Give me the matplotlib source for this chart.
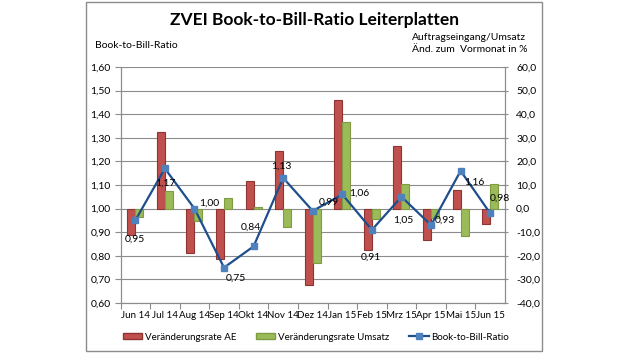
"""ZVEI Book-to-Bill-Ratio Leiterplatten - combo bar/line chart."""

import matplotlib

matplotlib.use("Agg")
import matplotlib.pyplot as plt
from matplotlib.lines import Line2D
from matplotlib.patches import Patch, Rectangle

plt.rcParams["font.family"] = ["Lato", "DejaVu Sans"]

months = ["Jun 14", "Jul 14", "Aug 14", "Sep 14", "Okt 14", "Nov 14", "Dez 14",
          "Jan 15", "Feb 15", "Mrz 15", "Apr 15", "Mai 15", "Jun 15"]
rate_ae = [-11.1, 32.5, -18.9, -21.2, 11.6, 24.4, -32.5, 45.9, -17.6, 26.6, -13.1, 7.8, -6.6]
rate_umsatz = [-3.4, 7.5, -5.2, 4.5, 0.7, -7.6, -23.1, 36.7, -4.5, 10.3, -3.8, -11.6, 10.3]
book_to_bill = [0.95, 1.17, 1.00, 0.75, 0.84, 1.13, 0.99, 1.06, 0.91, 1.05, 0.93, 1.16, 0.98]
left_ticks = [0.6, 0.7, 0.8, 0.9, 1.0, 1.1, 1.2, 1.3, 1.4, 1.5, 1.6]
right_ticks = [-40, -30, -20, -10, 0, 10, 20, 30, 40, 50, 60]

# label offsets in pixels (dx, dy) relative to each marker
label_offsets = [(0, -19), (0, -15), (15, 5), (12, -11), (-3, 19), (-2, 12), (16, 9),
                 (17, 1), (-1, -27), (2, -23), (14, 5), (14, -11), (10, 15)]

RED = "#C0504D"
RED_EDGE = "#8E3532"
GREEN = "#9BBB59"
GREEN_EDGE = "#7F9C45"
LINE = "#1F4E8C"
MARKER = "#4F81BD"
GRID = "#8C8C8C"

fig = plt.figure(figsize=(6.28, 3.53), dpi=100)
fig.patches.append(Rectangle((86 / 628, 1 - 351 / 353), (542 - 86) / 628, 349 / 353,
                             transform=fig.transFigure, fill=False,
                             edgecolor="#8C8C8C", linewidth=1.0))

ax_bar = fig.add_axes([120.5 / 628, 1 - 303 / 353, (505 - 120.5) / 628, (303 - 67) / 353])
ax_line = ax_bar.twinx()
ax_line.set_zorder(ax_bar.get_zorder() + 1)
ax_line.patch.set_visible(False)

x = list(range(len(months)))
width = 0.27
ax_bar.bar([i - width / 2 for i in x], rate_ae, width, color=RED, edgecolor=RED_EDGE,
           linewidth=0.8, zorder=3)
ax_bar.bar([i + width / 2 for i in x], rate_umsatz, width, color=GREEN, edgecolor=GREEN_EDGE,
           linewidth=0.8, zorder=3)
ax_bar.set_ylim(-40, 60)
ax_bar.set_xlim(-0.5, len(months) - 0.5)
ax_bar.set_yticks(right_ticks)
ax_bar.set_yticklabels([f"{v:.1f}".replace(".", ",") for v in right_ticks])
ax_bar.yaxis.tick_right()
ax_bar.grid(axis="y", color=GRID, linewidth=0.8, zorder=0)
ax_bar.set_axisbelow(True)

ax_line.plot(x, book_to_bill, color=LINE, linewidth=1.6, marker="s", markersize=4.5,
             markerfacecolor=MARKER, markeredgecolor=MARKER, zorder=4)
ax_line.set_ylim(0.6, 1.6)
ax_line.set_yticks(left_ticks)
ax_line.set_yticklabels([f"{v:.2f}".replace(".", ",") for v in left_ticks])
ax_line.yaxis.tick_left()

for i, (val, (dx, dy)) in enumerate(zip(book_to_bill, label_offsets)):
    ax_line.annotate(f"{val:.2f}".replace(".", ","), (i, val), xytext=(dx, dy),
                     textcoords="offset pixels", ha="center", va="center",
                     fontsize=7.5, color="black", zorder=5)

ax_bar.set_xticks([i + 0.5 for i in x[:-1]] + [-0.5], minor=False)
ax_bar.set_xticklabels([])
ax_bar.set_xticks(x, minor=True)
ax_bar.set_xticklabels(months, minor=True)
ax_bar.tick_params(axis="x", which="minor", length=0, labelsize=7, pad=6)
ax_bar.tick_params(axis="x", which="major", length=4, color=GRID, direction="out")
ax_bar.tick_params(axis="y", labelsize=7.5, length=4, color=GRID, direction="inout", pad=6)
ax_line.tick_params(axis="y", labelsize=7.5, length=4, color=GRID, direction="out", pad=3)

for axis in (ax_bar, ax_line):
    axis.spines["top"].set_visible(False)
    for side in ("left", "right", "bottom"):
        axis.spines[side].set_color(GRID)
        axis.spines[side].set_linewidth(0.8)

fig.text(0.5, 1 - 20 / 353, "ZVEI Book-to-Bill-Ratio Leiterplatten", ha="center",
         va="center", fontsize=12.5, fontweight="bold")
fig.text(95 / 628, 1 - 45 / 353, "Book-to-Bill-Ratio", ha="left", va="center", fontsize=7.5)
fig.text(412 / 628, 1 - 38 / 353, "Auftragseingang/Umsatz", ha="left", va="center", fontsize=7.5)
fig.text(412 / 628, 1 - 50 / 353, "Änd. zum  Vormonat in %", ha="left", va="center", fontsize=7.5)

handles = [
    Patch(facecolor=RED, edgecolor=RED_EDGE, label="Veränderungsrate AE"),
    Patch(facecolor=GREEN, edgecolor=GREEN_EDGE, label="Veränderungsrate Umsatz"),
    Line2D([0], [0], color=LINE, linewidth=1.6, marker="s", markersize=4.5,
           markerfacecolor=MARKER, markeredgecolor=MARKER, label="Book-to-Bill-Ratio"),
]
fig.legend(handles=handles, loc="center", bbox_to_anchor=(316 / 628, 1 - 337 / 353), ncol=3,
           frameon=False, fontsize=7, handlelength=2.0, handleheight=0.45,
           handletextpad=0.3, columnspacing=2.0)

fig.savefig("out.png", dpi=100)
